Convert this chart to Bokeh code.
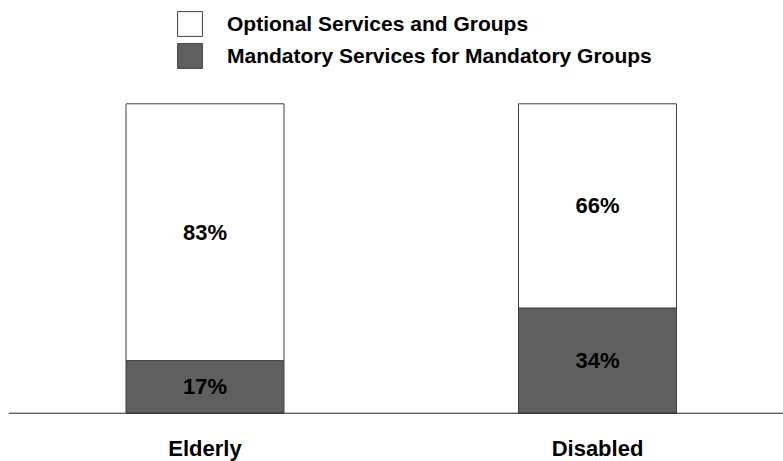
from bokeh.plotting import figure
from bokeh.models import ColumnDataSource, Range1d, Legend, LegendItem, Span
from bokeh.embed import file_html
from bokeh.resources import INLINE
from bokeh.core.properties import value

categories = ["Elderly", "Disabled"]
mandatory = [17, 34]
optional = [83, 66]
series_labels = ["Optional Services and Groups", "Mandatory Services for Mandatory Groups"]

FONT_NAME = "Liberation Sans"
FONT = value(FONT_NAME)
xpos = list(range(len(categories)))

src = ColumnDataSource(dict(
    x=xpos,
    cat=categories,
    zero=[0] * len(categories),
    mandatory=mandatory,
    optional=optional,
    m_mid=[m / 2 for m in mandatory],
    o_mid=[m + o / 2 for m, o in zip(mandatory, optional)],
    m_lab=[f"{m}%" for m in mandatory],
    o_lab=[f"{o}%" for o in optional],
))

p = figure(width=783, height=461, output_backend="svg", toolbar_location=None,
           x_range=Range1d(-0.5006, 1.4739), y_range=Range1d(-15.61, 133.39),
           min_border=0, min_border_left=8, outline_line_color=None)
p.axis.visible = False
p.grid.visible = False
p.background_fill_color = "white"
p.border_fill_color = "white"

renderers = p.vbar_stack(["mandatory", "optional"], x="x", width=0.4025, source=src,
                         fill_color=["#5f5f5f", "white"], line_color="#404040", line_width=1)

p.add_layout(Span(location=0, dimension="width", line_color="#222222", line_width=1))

common = dict(text_font=FONT, text_font_style="bold", text_font_size="22px",
              text_align="center", text_color="black")
p.text(x="x", y="m_mid", text="m_lab", source=src, text_baseline="middle", **common)
p.text(x="x", y="o_mid", text="o_lab", source=src, text_baseline="middle", **common)
p.text(x="x", y="zero", text="cat", source=src, text_baseline="middle", y_offset=35, **common)

legend = Legend(items=[LegendItem(label=series_labels[0], renderers=[renderers[1]]),
                       LegendItem(label=series_labels[1], renderers=[renderers[0]])],
                location=(166, 389.7), glyph_width=31, glyph_height=31, label_standoff=22,
                spacing=1, padding=0, margin=0, border_line_color=None,
                background_fill_alpha=0, label_text_font=FONT_NAME, label_text_font_style="bold",
                label_text_font_size="21px", label_text_color="black")
p.add_layout(legend)

open("out.html", "w").write(file_html(p, INLINE))
